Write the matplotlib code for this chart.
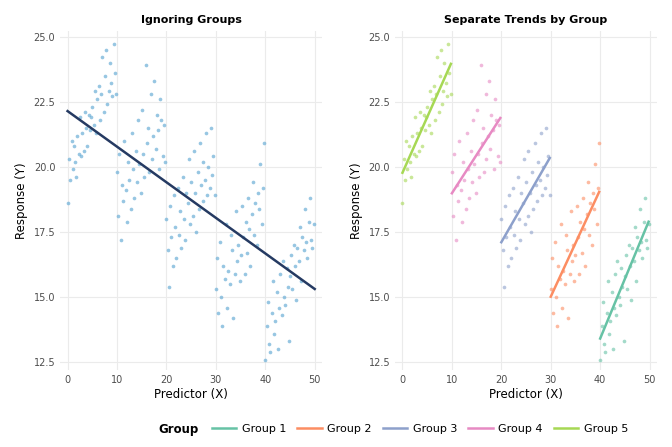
import matplotlib.pyplot as plt
import numpy as np

# Data (approximate)
g5_x = [0.0,0.3,0.5,0.8,1.0,1.3,1.5,1.8,2.0,2.3,2.5,2.8,3.0,3.3,3.5,3.8,4.0,4.3,4.5,4.8,5.0,5.3,5.5,5.8,6.0,6.3,6.5,6.8,7.0,7.3,7.5,7.8,8.0,8.3,8.5,8.8,9.0,9.3,9.5,9.8]
g5_y = [18.6,20.3,19.5,21.0,19.9,20.8,20.2,19.6,21.2,20.5,21.9,20.4,21.3,20.6,22.1,21.5,20.8,22.0,21.4,21.9,22.3,21.6,22.9,21.3,22.6,23.1,21.8,22.8,24.2,22.1,23.5,24.5,22.4,22.9,24.0,23.2,22.7,24.7,23.6,22.8]
g4_x = [x + 10 for x in g5_x]
g4_y = [19.8,18.1,20.5,17.2,19.3,18.7,21.0,19.1,17.9,20.2,19.5,18.4,21.3,19.9,18.8,20.6,19.4,21.8,20.1,19.0,22.2,20.5,19.6,23.9,20.9,21.5,19.8,22.8,20.3,21.2,23.3,20.7,22.0,21.4,19.9,22.6,21.8,20.4,21.6,20.2]
g3_x = [x + 20 for x in g5_x]
g3_y = [18.0,16.8,15.4,18.5,17.3,16.2,18.9,17.7,16.5,19.2,17.4,18.3,16.9,19.6,18.0,17.2,19.0,18.6,20.3,17.8,19.4,18.1,20.6,19.0,17.5,19.8,18.4,20.9,19.3,18.7,20.2,19.5,21.3,18.9,20.0,19.2,21.5,19.7,20.4,18.9]
g2_x = [x + 30 for x in g5_x]
g2_y = [15.3,16.5,14.4,17.1,15.0,13.9,16.2,15.7,17.8,14.6,16.0,15.5,17.4,16.8,14.2,15.9,18.3,16.4,17.0,15.6,16.6,18.5,17.3,15.9,17.9,16.7,18.8,17.6,16.2,18.2,19.4,17.4,18.6,17.0,19.0,18.4,20.1,17.8,19.2,20.9]
g1_x = [x + 40 for x in g5_x]
g1_y = [12.6,13.9,14.8,13.2,12.9,14.4,15.6,13.6,14.1,15.2,13.0,14.6,15.9,14.3,16.4,15.0,14.7,16.1,15.4,13.3,15.8,16.6,15.3,17.0,16.2,14.9,16.9,16.4,17.7,15.6,17.3,16.8,18.4,17.1,16.5,17.9,18.8,17.2,16.9,17.8]

groups = ['Group 1', 'Group 2', 'Group 3', 'Group 4', 'Group 5']
xs = [g1_x, g2_x, g3_x, g4_x, g5_x]
ys = [g1_y, g2_y, g3_y, g4_y, g5_y]
colors = ['#66C2A5', '#FC8D62', '#8DA0CB', '#E78AC3', '#A6D854']

fig, (ax1, ax2) = plt.subplots(1, 2, figsize=(6.72, 4.47), dpi=100)

def style(ax, title):
    ax.set_title(title, fontsize=8, fontweight='bold')
    ax.set_xlabel('Predictor (X)', fontsize=8.5, labelpad=2)
    ax.set_ylabel('Response (Y)', fontsize=8.5)
    ax.set_xlim(-1.5, 51.5)
    ax.set_ylim(12.2, 25.2)
    ax.set_xticks([0, 10, 20, 30, 40, 50])
    ax.set_yticks([12.5, 15.0, 17.5, 20.0, 22.5, 25.0])
    ax.set_yticklabels(['12.5', '15.0', '17.5', '20.0', '22.5', '25.0'])
    ax.tick_params(labelsize=7, colors='#4d4d4d', length=0)
    for s in ax.spines.values():
        s.set_visible(False)
    ax.grid(True, color='#ebebeb', linewidth=0.8)
    ax.set_axisbelow(True)

# Left: all points together
all_x = np.concatenate([np.array(x) for x in xs])
all_y = np.concatenate([np.array(y) for y in ys])
ax1.scatter(all_x, all_y, s=7, color='#6BAED6', alpha=0.7, linewidths=0)
m, b = np.polyfit(all_x, all_y, 1)
ax1.plot([0, 50], [b, m * 50 + b], color='#253A62', linewidth=1.8)
style(ax1, 'Ignoring Groups')

# Right: per group
for g, x, y, c in zip(groups, xs, ys, colors):
    x = np.array(x)
    y = np.array(y)
    ax2.scatter(x, y, s=7, color=c, alpha=0.6, linewidths=0)
    m, b = np.polyfit(x, y, 1)
    ax2.plot([x.min(), x.max()], [m * x.min() + b, m * x.max() + b], color=c, linewidth=1.8, label=g)
style(ax2, 'Separate Trends by Group')

plt.tight_layout(rect=(0, 0.07, 1, 1), w_pad=2)
handles, labels = ax2.get_legend_handles_labels()
fig.legend(handles, labels, loc='center left', ncol=5, bbox_to_anchor=(0.3, 0.04),
           frameon=False, fontsize=8, handlelength=2.2, columnspacing=1.0, handletextpad=0.5)
fig.text(0.235, 0.04, 'Group', fontsize=8.5, fontweight='bold', va='center')

plt.savefig('out.png', dpi=100)
